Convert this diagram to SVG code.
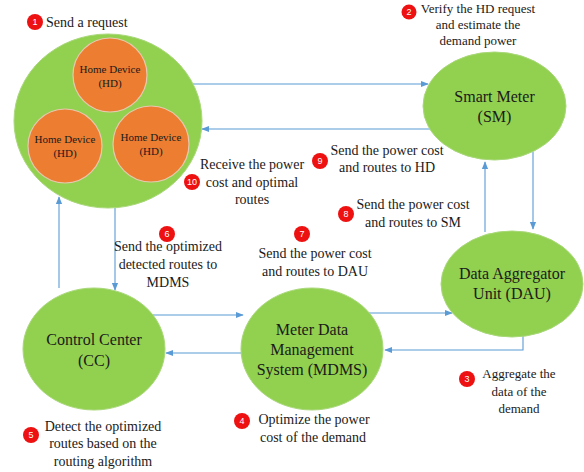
<svg xmlns="http://www.w3.org/2000/svg" width="584" height="472" viewBox="0 0 584 472">
  <style>
    .node { fill: #92d050; stroke: #a9d87a; stroke-width: 1; }
    .hd { fill: #ed7d31; stroke: #e8c8b0; stroke-width: 1.2; }
    text { font-family: "Liberation Serif", "Times New Roman", serif; fill: #1a1a1a; text-anchor: middle; }
    .ntxt { font-size: 16px; }
    .hdtxt { font-size: 11px; }
    .lbl { font-size: 14px; }
    .lbl-s { font-size: 13px; }
    .badge { fill: #ee1111; }
    text.btxt { font-family: "Liberation Sans", Arial, sans-serif; font-size: 9px; fill: #ffffff; }
    .conn { fill: none; stroke: #5b9bd5; stroke-width: 1.1; marker-end: url(#arrow); }
  </style>
  <defs>
    <marker id="arrow" viewBox="0 0 10 10" refX="9" refY="5" markerWidth="8" markerHeight="8" markerUnits="userSpaceOnUse" orient="auto">
      <path d="M0,1 L10,5 L0,9 z" fill="#5b9bd5"/>
    </marker>
  </defs>

  <!-- connectors -->
  <g id="connectors">
    <line class="conn" x1="190" y1="84" x2="428" y2="84"/>
    <line class="conn" x1="438" y1="129" x2="202" y2="129"/>
    <line class="conn" x1="533" y1="152" x2="533" y2="229"/>
    <line class="conn" x1="485" y1="232" x2="485" y2="162"/>
    <line class="conn" x1="368" y1="313" x2="452" y2="313"/>
    <polyline class="conn" points="523,336 523,350 385,350"/>
    <line class="conn" x1="153" y1="315" x2="243" y2="315"/>
    <line class="conn" x1="250" y1="353" x2="166" y2="353"/>
    <line class="conn" x1="115" y1="208" x2="115" y2="290"/>
    <line class="conn" x1="59" y1="288" x2="59" y2="197"/>
  </g>

  <!-- home area with devices -->
  <g id="home">
    <ellipse class="node" cx="108" cy="121" rx="94" ry="87"/>
    <g id="hd-top">
      <circle class="hd" cx="110" cy="75" r="37"/>
      <text class="hdtxt" x="110" y="73">Home Device</text>
      <text class="hdtxt" x="110" y="87">(HD)</text>
    </g>
    <g id="hd-left">
      <circle class="hd" cx="65" cy="146" r="37"/>
      <text class="hdtxt" x="65" y="143">Home Device</text>
      <text class="hdtxt" x="65" y="157">(HD)</text>
    </g>
    <g id="hd-right">
      <circle class="hd" cx="151" cy="144" r="38"/>
      <text class="hdtxt" x="151" y="141">Home Device</text>
      <text class="hdtxt" x="151" y="155">(HD)</text>
    </g>
  </g>

  <g id="sm">
    <ellipse class="node" cx="494.5" cy="106" rx="71.5" ry="54"/>
    <text class="ntxt" x="494.5" y="102">Smart Meter</text>
    <text class="ntxt" x="494.5" y="122">(SM)</text>
  </g>

  <g id="dau">
    <ellipse class="node" cx="512" cy="284" rx="71" ry="53"/>
    <text class="ntxt" x="512" y="279">Data Aggregator</text>
    <text class="ntxt" x="512" y="299">Unit (DAU)</text>
  </g>

  <g id="cc">
    <ellipse class="node" cx="94" cy="349" rx="71" ry="61"/>
    <text class="ntxt" x="94" y="345">Control Center</text>
    <text class="ntxt" x="94" y="366">(CC)</text>
  </g>

  <g id="mdms">
    <ellipse class="node" cx="312" cy="349" rx="71" ry="61"/>
    <text class="ntxt" x="312" y="335">Meter Data</text>
    <text class="ntxt" x="312" y="355">Management</text>
    <text class="ntxt" x="312" y="375">System (MDMS)</text>
  </g>

  <!-- numbered steps -->
  <g id="step1">
    <circle class="badge" cx="35" cy="22" r="8"/>
    <text class="btxt" x="35" y="25">1</text>
    <text class="lbl" x="46" y="27" style="text-anchor:start">Send a request</text>
  </g>
  <g id="step2">
    <circle class="badge" cx="409" cy="12" r="7.5"/>
    <text class="btxt" x="409" y="15">2</text>
    <text class="lbl-s" x="478" y="13">Verify the HD request</text>
    <text class="lbl-s" x="478" y="29">and estimate the</text>
    <text class="lbl-s" x="478" y="45">demand power</text>
  </g>
  <g id="step3">
    <circle class="badge" cx="467" cy="379" r="8"/>
    <text class="btxt" x="467" y="382">3</text>
    <text class="lbl-s" x="519" y="378">Aggregate the</text>
    <text class="lbl-s" x="519" y="396">data of the</text>
    <text class="lbl-s" x="519" y="413">demand</text>
  </g>
  <g id="step4">
    <circle class="badge" cx="242" cy="421" r="8"/>
    <text class="btxt" x="242" y="424">4</text>
    <text class="lbl" x="314" y="424">Optimize the power</text>
    <text class="lbl" x="313" y="442">cost of the demand</text>
  </g>
  <g id="step5">
    <circle class="badge" cx="31" cy="435" r="8"/>
    <text class="btxt" x="31" y="438">5</text>
    <text class="lbl" x="103" y="431">Detect the optimized</text>
    <text class="lbl" x="103" y="448">routes based on the</text>
    <text class="lbl" x="103" y="466">routing algorithm</text>
  </g>
  <g id="step6">
    <circle class="badge" cx="167" cy="234" r="8"/>
    <text class="btxt" x="167" y="237">6</text>
    <text class="lbl" x="168" y="251">Send the optimized</text>
    <text class="lbl" x="168" y="269">detected routes to</text>
    <text class="lbl" x="168" y="287">MDMS</text>
  </g>
  <g id="step7">
    <circle class="badge" cx="302" cy="234" r="8"/>
    <text class="btxt" x="302" y="237">7</text>
    <text class="lbl" x="315" y="258">Send the power cost</text>
    <text class="lbl" x="315" y="276">and routes to DAU</text>
  </g>
  <g id="step8">
    <circle class="badge" cx="346" cy="214" r="8"/>
    <text class="btxt" x="346" y="217">8</text>
    <text class="lbl" x="413" y="209">Send the power cost</text>
    <text class="lbl" x="413" y="227">and routes to SM</text>
  </g>
  <g id="step9">
    <circle class="badge" cx="320" cy="161" r="8"/>
    <text class="btxt" x="320" y="164">9</text>
    <text class="lbl" x="387" y="155">Send the power cost</text>
    <text class="lbl" x="387" y="172">and routes to HD</text>
  </g>
  <g id="step10">
    <circle class="badge" cx="192" cy="182" r="8"/>
    <text class="btxt" x="192" y="185">10</text>
    <text class="lbl" x="252" y="169">Receive the power</text>
    <text class="lbl" x="252" y="187">cost and optimal</text>
    <text class="lbl" x="252" y="204">routes</text>
  </g>
</svg>
